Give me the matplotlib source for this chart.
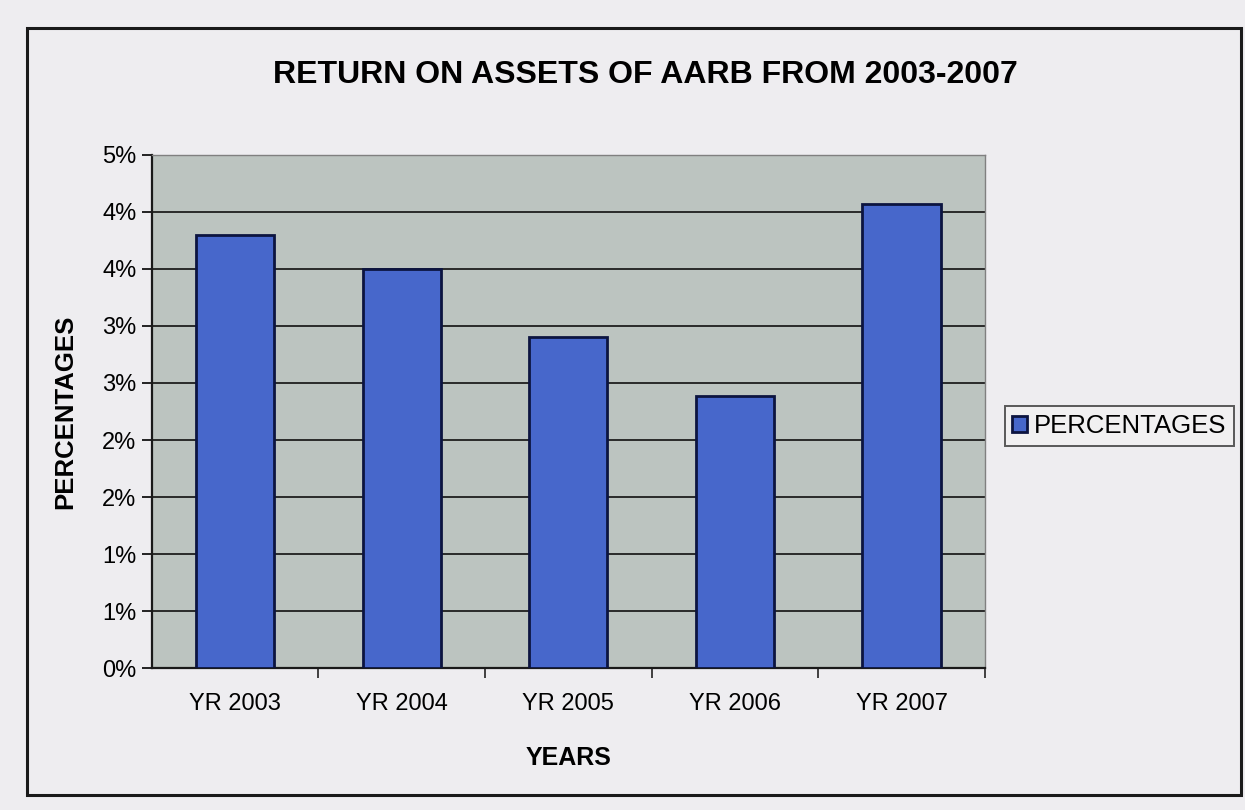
import matplotlib.pyplot as plt
from matplotlib.patches import Rectangle
from matplotlib.ticker import FuncFormatter
import math

plt.rcParams['font.family'] = ['Liberation Sans', 'DejaVu Sans']

years = ['YR 2003', 'YR 2004', 'YR 2005', 'YR 2006', 'YR 2007']
roa = [3.80, 3.50, 2.90, 2.39, 4.07]   # return on assets, %
yticks = [0, 0.5, 1.0, 1.5, 2.0, 2.5, 3.0, 3.5, 4.0, 4.5]

def pct(v, pos):
    # excel style: whole percent, halves rounded up
    return '%d%%' % math.floor(v + 0.5)

fig = plt.figure(figsize=(12.45, 8.1), dpi=100)
fig.patch.set_facecolor('#eeedf0')

# outer chart border
fig.patches.append(Rectangle((0.022, 0.018), 0.975, 0.947, transform=fig.transFigure,
                             fill=False, edgecolor='#1a1a1a', linewidth=2.2))

ax = fig.add_axes([0.122, 0.175, 0.669, 0.634])
ax.set_facecolor('#bcc4c0')

x = range(len(years))
ax.bar(x, roa, width=0.47, color='#4767cb', edgecolor='#0c1440', linewidth=2,
       label='PERCENTAGES', zorder=3)

ax.set_ylim(0, 4.5)
ax.set_xlim(-0.5, len(years) - 0.5)
ax.set_yticks(yticks)
ax.yaxis.set_major_formatter(FuncFormatter(pct))
ax.yaxis.grid(True, color='#1e1e1e', linewidth=1.3, zorder=1)
ax.set_axisbelow(True)

ax.set_xticks(list(x))
ax.set_xticklabels(years, fontsize=17)
ax.set_xticks([i + 0.5 for i in range(len(years))], minor=True)
ax.tick_params(axis='x', which='major', length=0, pad=18)
ax.tick_params(axis='x', which='minor', length=7, width=1.2, color='#222222')
ax.tick_params(axis='y', length=7, width=1.2, labelsize=17, pad=4)

for s in ['top', 'right']:
    ax.spines[s].set_color('#808080')
    ax.spines[s].set_linewidth(1)
for s in ['left', 'bottom']:
    ax.spines[s].set_color('#1a1a1a')
    ax.spines[s].set_linewidth(1.6)

ax.set_xlabel('YEARS', fontsize=18, fontweight='bold', labelpad=22)
ax.set_ylabel('PERCENTAGES', fontsize=18.5, fontweight='bold', labelpad=18)

fig.text(0.518, 0.907, 'RETURN ON ASSETS OF AARB FROM 2003-2007',
         ha='center', va='center', fontsize=23, fontweight='bold')

leg = fig.legend(loc='center left', bbox_to_anchor=(0.807, 0.474), fontsize=18.5,
                 frameon=True, fancybox=False, edgecolor='#333333',
                 handlelength=0.55, handleheight=0.55, handletextpad=0.3,
                 borderpad=0.3, borderaxespad=0)
leg.get_frame().set_linewidth(1.4)
leg.get_frame().set_facecolor('#f2f2f2')

fig.savefig('out.png', dpi=100, facecolor=fig.get_facecolor())
